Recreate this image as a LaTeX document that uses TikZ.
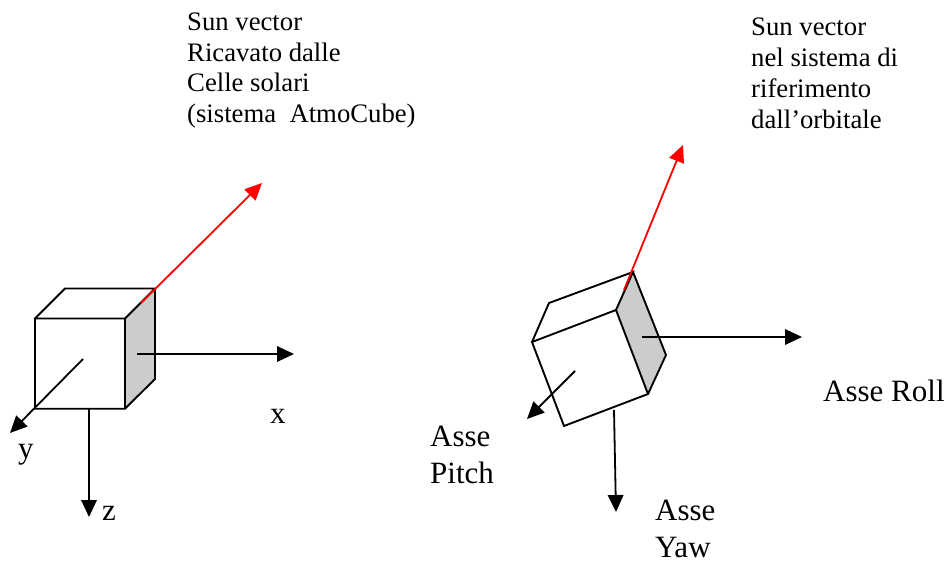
\documentclass[tikz,border=0pt]{standalone}
\usepackage{fontspec}
\setmainfont{Liberation Serif}
\usetikzlibrary{arrows.meta}
\tikzset{
 edge/.style={draw=black,line width=1.9pt,line join=miter},
 axis/.style={draw=black,line width=1.8pt,-{Triangle[length=17pt,width=15.5pt]}},
 sun/.style={draw=red,line width=1.8pt,-{Triangle[length=17pt,width=15.5pt,fill=red]}},
 small/.style={font=\fontsize{26.7}{30.7}\selectfont,align=left,anchor=base west,inner sep=0pt},
 big/.style={font=\fontsize{31}{37}\selectfont,align=left,anchor=base west,inner sep=0pt},
}
\begin{document}
\begin{tikzpicture}[x=1pt,y=-1pt]
\useasboundingbox (0,0) rectangle (951,562);
\fill[white] (0,0) rectangle (951,562);
% left cube
\coordinate (a1) at (35,318.5);
\coordinate (a2) at (125,318.5);
\coordinate (a3) at (125,408.7);
\coordinate (a4) at (35,408.7);
\coordinate (b1) at (65,288.5);
\coordinate (b2) at (155,288.5);
\coordinate (b3) at (155,379);
\fill[black!20] (a2)--(b2)--(b3)--(a3)--cycle;
\draw[edge] (a1)--(a2)--(a3)--(a4)--cycle (a1)--(b1)--(b2)--(a2) (b2)--(b3)--(a3);
\coordinate (c1) at (137,354);
\coordinate (c2) at (294,354);
\draw[axis] (c1)--(c2);
\coordinate (c3) at (83,359);
\coordinate (c4) at (10,433);
\draw[axis] (c3)--(c4);
\coordinate (c5) at (89,409);
\coordinate (c6) at (89,517);
\draw[axis] (c5)--(c6);
\coordinate (s1) at (141,303);
\coordinate (s2) at (262,183);
\draw[sun] (s1)--(s2);
% right cube
\coordinate (d1) at (532,342);
\coordinate (d2) at (616,310);
\coordinate (d3) at (648,394);
\coordinate (d4) at (564,426);
\coordinate (e1) at (549,303);
\coordinate (e2) at (633,272);
\coordinate (e3) at (666,355);
\fill[black!20] (d2)--(e2)--(e3)--(d3)--cycle;
\draw[edge] (d1)--(d2)--(d3)--(d4)--cycle (d1)--(e1)--(e2)--(d2) (e2)--(e3)--(d3);
\coordinate (f1) at (642,337);
\coordinate (f2) at (802,337);
\draw[axis] (f1)--(f2);
\coordinate (f3) at (575,371);
\coordinate (f4) at (527,419);
\draw[axis] (f3)--(f4);
\coordinate (f5) at (614,410);
\coordinate (f6) at (616,512);
\draw[axis] (f5)--(f6);
\coordinate (t1) at (624,290);
\coordinate (t2) at (683,145);
\draw[sun] (t1)--(t2);
% text
\node[small] (n1) at (187,122.5) {Sun vector\\Ricavato dalle\\Celle solari\\(sistema\ \ AtmoCube)};
\node[small] (n2) at (751,128) {Sun vector\\nel sistema di\\riferimento\\dall’orbitale};
\node[big] (x) at (270,423) {x};
\node[big] (y) at (18,458) {y};
\node[big] (z) at (102,520) {z};
\node[big] (roll) at (823,401) {Asse Roll};
\node[big] (pitch) at (430,483) {Asse\\Pitch};
\node[big] (yaw) at (655,557) {Asse\\Yaw};
\end{tikzpicture}
\end{document}
